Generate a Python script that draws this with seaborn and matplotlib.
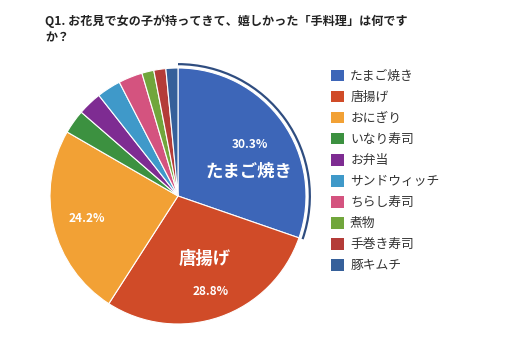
import numpy as np
import matplotlib
matplotlib.use("Agg")
import matplotlib.pyplot as plt
import seaborn as sns
from matplotlib.patches import Patch, Arc

sns.set_style("white")
plt.rcParams['font.family'] = ['Noto Sans CJK JP', 'DejaVu Sans']

title = "Q1. お花見で女の子が持ってきて、嬉しかった「手料理」は何です\nか？"
categories = ["たまご焼き", "唐揚げ", "おにぎり", "いなり寿司", "お弁当",
              "サンドウィッチ", "ちらし寿司", "煮物", "手巻き寿司", "豚キムチ"]
counts = [20, 19, 16, 2, 2, 2, 2, 1, 1, 1]
pct_labels = ["30.3%", "28.8%", "24.2%"]
name_labels = ["たまご焼き", "唐揚げ", None]

colors = ['#3d66b8', '#d04b28', '#f2a135', '#3c9140', '#7e2c92',
          '#3f99c9', '#d4537f', '#71a63c', '#b43c38', '#36609a']
sns.set_palette(colors)

fig = plt.figure(figsize=(5.07, 3.40), dpi=100)
fig.patch.set_facecolor('white')
W, H = 507, 340
cx, cy, r = 178, 196, 128
lim = 1.08
R = r * lim
ax = fig.add_axes([(cx - R) / W, (H - cy - R) / H, 2 * R / W, 2 * R / H])
ax.set_aspect('equal')

wedges, _ = ax.pie(counts, colors=sns.color_palette(), startangle=90, counterclock=False,
                   radius=1.0, wedgeprops=dict(edgecolor='white', linewidth=0.8))
ax.set_xlim(-lim, lim)
ax.set_ylim(-lim, lim)
ax.axis('off')

# highlight arc on the first slice
w0 = wedges[0]
ax.add_patch(Arc((0, 0), 2 * 1.03, 2 * 1.03, theta1=w0.theta1, theta2=w0.theta2,
                 color='#2f4d80', linewidth=1.6))

pct_r = [0.69, 0.79, 0.735]
for i in range(3):
    w = wedges[i]
    mid = np.deg2rad((w.theta1 + w.theta2) / 2)
    ax.text(pct_r[i] * np.cos(mid), pct_r[i] * np.sin(mid), pct_labels[i],
            ha='center', va='center', color='white', fontsize=8.6, fontweight='bold')

# category names inside the big slices
name_pos = [(0.555, 0.19), (0.21, -0.49)]
for i in range(2):
    ax.text(name_pos[i][0], name_pos[i][1], name_labels[i], ha='center', va='center',
            color='white', fontsize=12.5, fontweight='bold')

fig.text(45 / W, 1 - 15 / H, title, ha='left', va='top', fontsize=8.7,
         fontweight='bold', linespacing=1.3, color='#222222')

handles = [Patch(facecolor=c, edgecolor='none') for c in colors]
leg = fig.legend(handles, categories, loc='upper left', bbox_to_anchor=(331 / W, 1 - 70 / H),
                 frameon=False, fontsize=9.2, handlelength=1.0, handleheight=1.0,
                 handletextpad=0.5, labelspacing=0.62, borderaxespad=0, borderpad=0)
for t in leg.get_texts():
    t.set_color('#333333')

fig.savefig("out.png", dpi=100, facecolor='white')
